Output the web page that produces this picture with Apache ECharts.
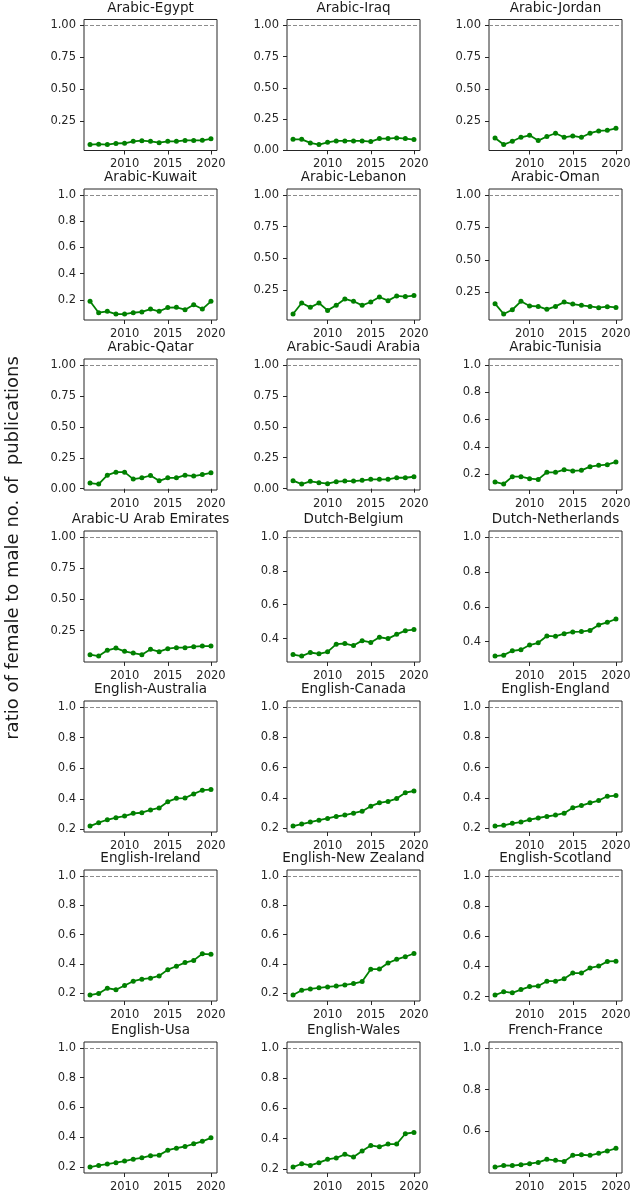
<!DOCTYPE html>
<html><head><meta charset="utf-8">
<script src="https://cdn.jsdelivr.net/npm/echarts@6.0.0/dist/echarts.min.js"></script>
<style>html,body{margin:0;padding:0;background:#fff}#c{width:636px;height:1199px}</style>
</head><body><div id="c"></div>
<script>
const years = [2006,2007,2008,2009,2010,2011,2012,2013,2014,2015,2016,2017,2018,2019,2020];
const xTicks = [2010, 2015, 2020];
const yLabel = 'ratio of female to male no. of  publications';

const titles = ['Arabic-Egypt','Arabic-Iraq','Arabic-Jordan','Arabic-Kuwait','Arabic-Lebanon','Arabic-Oman',
  'Arabic-Qatar','Arabic-Saudi Arabia','Arabic-Tunisia','Arabic-U Arab Emirates','Dutch-Belgium','Dutch-Netherlands',
  'English-Australia','English-Canada','English-England','English-Ireland','English-New Zealand','English-Scotland',
  'English-Usa','English-Wales','French-France'];

const egypt       = [0.065,0.068,0.065,0.074,0.075,0.090,0.095,0.090,0.080,0.090,0.090,0.097,0.097,0.098,0.110];
const iraq        = [0.088,0.088,0.059,0.046,0.064,0.075,0.075,0.075,0.075,0.070,0.094,0.094,0.099,0.094,0.086];
const jordan      = [0.116,0.064,0.090,0.121,0.137,0.095,0.127,0.153,0.121,0.132,0.121,0.153,0.171,0.176,0.192];
const kuwait      = [0.190,0.103,0.114,0.093,0.093,0.103,0.109,0.131,0.114,0.142,0.144,0.126,0.164,0.131,0.190];
const lebanon     = [0.059,0.146,0.112,0.146,0.088,0.128,0.178,0.160,0.128,0.154,0.194,0.165,0.202,0.197,0.205];
const oman        = [0.163,0.083,0.116,0.181,0.145,0.142,0.119,0.142,0.175,0.160,0.150,0.142,0.132,0.140,0.134];
const qatar       = [0.046,0.038,0.110,0.134,0.134,0.078,0.088,0.107,0.064,0.088,0.088,0.110,0.102,0.115,0.129];
const saudi       = [0.064,0.037,0.059,0.048,0.040,0.056,0.061,0.061,0.067,0.075,0.075,0.075,0.088,0.088,0.096];
const tunisia     = [0.144,0.129,0.183,0.183,0.168,0.163,0.215,0.215,0.234,0.225,0.229,0.256,0.266,0.271,0.291];
const uae         = [0.058,0.047,0.093,0.111,0.085,0.071,0.058,0.101,0.082,0.106,0.114,0.114,0.122,0.127,0.127];
const belgium     = [0.306,0.297,0.318,0.310,0.322,0.367,0.371,0.359,0.388,0.377,0.408,0.400,0.425,0.447,0.453];
const netherlands = [0.318,0.323,0.348,0.354,0.381,0.394,0.433,0.431,0.446,0.456,0.458,0.465,0.496,0.511,0.530];
const australia   = [0.222,0.244,0.263,0.277,0.287,0.305,0.309,0.327,0.340,0.381,0.403,0.405,0.432,0.456,0.460];
const canada      = [0.215,0.228,0.241,0.254,0.265,0.278,0.287,0.300,0.313,0.346,0.368,0.377,0.396,0.435,0.446];
const england     = [0.215,0.220,0.233,0.241,0.257,0.268,0.278,0.287,0.300,0.335,0.350,0.368,0.383,0.411,0.416];
const ireland     = [0.189,0.200,0.236,0.225,0.254,0.283,0.297,0.304,0.319,0.362,0.385,0.410,0.425,0.470,0.466];
const newZealand  = [0.189,0.222,0.231,0.238,0.244,0.250,0.258,0.267,0.281,0.365,0.366,0.407,0.432,0.450,0.472];
const scotland    = [0.210,0.232,0.225,0.246,0.266,0.270,0.302,0.302,0.318,0.356,0.356,0.390,0.402,0.433,0.435];
const usa         = [0.200,0.211,0.220,0.229,0.240,0.253,0.262,0.276,0.280,0.313,0.327,0.338,0.356,0.373,0.396];
const wales       = [0.213,0.235,0.224,0.242,0.264,0.273,0.297,0.279,0.319,0.356,0.347,0.365,0.365,0.433,0.442];
const france      = [0.429,0.437,0.436,0.440,0.445,0.451,0.466,0.461,0.456,0.485,0.488,0.485,0.495,0.506,0.519];

const seriesValues = [egypt,iraq,jordan,kuwait,lebanon,oman,qatar,saudi,tunisia,uae,belgium,netherlands,
  australia,canada,england,ireland,newZealand,scotland,usa,wales,france];

const ticksQ0 = [0, 0.25, 0.5, 0.75, 1.0];
const ticksQ  = [0.25, 0.5, 0.75, 1.0];
const ticksF2 = [0.2, 0.4, 0.6, 0.8, 1.0];
const ticksF4 = [0.4, 0.6, 0.8, 1.0];
const ticksF6 = [0.6, 0.8, 1.0];
const yTicks = [ticksQ, ticksQ0, ticksQ, ticksF2, ticksQ, ticksQ,
  ticksQ0, ticksQ0, ticksF2, ticksQ, ticksF4, ticksF4,
  ticksF2, ticksF2, ticksF2, ticksF2, ticksF2, ticksF2,
  ticksF2, ticksF2, ticksF6];
const yDecimals = [2,2,2,1,2,2, 2,2,1,2,1,1, 1,1,1,1,1,1, 1,1,1];

// layout
const colLeft = [84, 287, 489];
const rowTop = [19.5, 189, 359, 531, 701, 870, 1042];
const W = 133, H = 131;
const font = 'DejaVu Sans';

const grid = [], xAxis = [], yAxis = [], series = [], title = [];
seriesValues.forEach((vals, i) => {
  const r = Math.floor(i / 3), c = i % 3;
  const left = colLeft[c], top = rowTop[r];
  grid.push({left: left, top: top, width: W, height: H, show: true, borderColor: '#262626', borderWidth: 1, backgroundColor: '#fff', containLabel: false});
  const dmin = Math.min(...vals);
  const span = 1 - dmin;
  xAxis.push({type: 'value', gridIndex: i, min: 2006 - 0.7, max: 2020 + 0.7,
    axisLine: {show: false}, splitLine: {show: false},
    axisTick: {show: true, length: 4, customValues: xTicks, lineStyle: {color: '#262626', width: 1}},
    axisLabel: {show: true, customValues: xTicks, margin: 8, fontFamily: font, fontSize: 11.5, color: '#262626', formatter: v => String(v)}});
  const dec = yDecimals[i];
  yAxis.push({type: 'value', gridIndex: i, min: dmin - 0.05 * span, max: 1 + 0.05 * span,
    axisLine: {show: false}, splitLine: {show: false},
    axisTick: {show: true, length: 4, customValues: yTicks[i], lineStyle: {color: '#262626', width: 1}},
    axisLabel: {show: true, customValues: yTicks[i], margin: 8, fontFamily: font, fontSize: 11.5, color: '#262626', formatter: v => Number(v).toFixed(dec)}});
  series.push({type: 'line', xAxisIndex: i, yAxisIndex: i,
    data: years.map((y, k) => [y, vals[k]]),
    symbol: 'circle', symbolSize: 5, showSymbol: true,
    lineStyle: {color: '#008000', width: 1.8}, itemStyle: {color: '#008000'},
    markLine: {silent: true, symbol: 'none', label: {show: false},
      lineStyle: {color: '#8c8c8c', type: [4, 2], width: 1},
      data: [{yAxis: 1}]}});
  title.push({text: titles[i], left: left + W / 2, top: top - 18.5, textAlign: 'center', padding: 0,
    textStyle: {fontFamily: font, fontSize: 13.5, fontWeight: 'normal', color: '#1a1a1a'}});
});

const chart = echarts.init(document.getElementById('c'), null, {renderer: 'canvas'});
chart.setOption({
  animation: false,
  backgroundColor: '#fff',
  title: title, grid: grid, xAxis: xAxis, yAxis: yAxis, series: series,
  graphic: [{type: 'text', x: 13, y: 548, rotation: Math.PI / 2,
    style: {text: yLabel, font: '18px "DejaVu Sans"', fill: '#1a1a1a', textAlign: 'center', textVerticalAlign: 'middle'}}]
});
</script></body></html>
